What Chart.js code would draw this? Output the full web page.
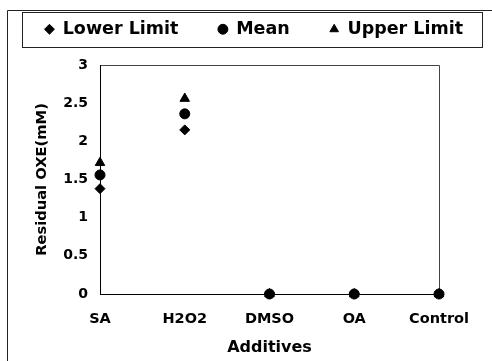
<!DOCTYPE html>
<html><head><meta charset="utf-8">
<script src="https://cdn.jsdelivr.net/npm/chart.js@4/dist/chart.umd.min.js"></script>
<style>
html,body{margin:0;padding:0;background:#fff;}
#wrap{position:relative;width:492px;height:361px;}
canvas{display:block;}
</style></head><body>
<div id="wrap"><canvas id="c" width="492" height="361"></canvas></div>
<script>
const categories = ['SA', 'H2O2', 'DMSO', 'OA', 'Control'];
const lowerLimit = [1.38, 2.15, 0, 0, 0];
const meanValues = [1.56, 2.36, 0, 0, 0];
const upperLimit = [1.72, 2.56, 0, 0, 0];
const seriesNames = ['Lower Limit', 'Mean', 'Upper Limit'];
const yTickValues = [0, 0.5, 1, 1.5, 2, 2.5, 3];
const yTickLabels = ['0', '0.5', '1', '1.5', '2', '2.5', '3'];
const xTitle = 'Additives';
const yTitle = 'Residual OXE(mM)';

const FONT = 'DejaVu Sans';
Chart.defaults.font.family = FONT;
Chart.defaults.font.weight = 'bold';
Chart.defaults.color = '#000';

const box = {
  frameLeft: 22, frameRight: 482, frameTop: 12, frameBottom: 47,
  drawLeft: 4, drawRight: 504, drawTop: -19.5, legendHeight: 65
};

const framePlugin = {
  id: 'frames',
  afterInit(chart) {
    const lg = chart.legend;
    const fit = lg.fit.bind(lg);
    lg.fit = function () {
      const mw = this.maxWidth;
      this.maxWidth = 2000;
      fit();
      this.maxWidth = mw;
      this.width = mw;
      this.height = box.legendHeight;
    };
  },
  afterLayout(chart) {
    const lg = chart.legend;
    lg.left = box.drawLeft; lg.right = box.drawRight; lg.top = box.drawTop;
    lg.width = box.drawRight - box.drawLeft;
  },
  beforeDraw(chart) {
    const ctx = chart.ctx;
    ctx.save();
    ctx.strokeStyle = '#222';
    ctx.lineWidth = 1;
    ctx.beginPath();
    ctx.moveTo(7.5, 361); ctx.lineTo(7.5, 10.5); ctx.lineTo(492, 10.5);
    ctx.stroke();
    ctx.strokeRect(box.frameLeft + 0.5, box.frameTop + 0.5, box.frameRight - box.frameLeft, box.frameBottom - box.frameTop);
    const a = chart.chartArea;
    ctx.strokeStyle = '#444';
    ctx.beginPath();
    ctx.moveTo(a.left, Math.round(a.top) + 0.5);
    ctx.lineTo(Math.round(a.right) + 0.5, Math.round(a.top) + 0.5);
    ctx.lineTo(Math.round(a.right) + 0.5, a.bottom);
    ctx.stroke();
    ctx.restore();
  }
};

const mk = (label, data, style, r) => ({
  label, data, pointStyle: style, pointRadius: r, pointHoverRadius: r,
  backgroundColor: '#000', borderColor: '#000', borderWidth: 1,
  showLine: false, clip: false
});

new Chart(document.getElementById('c'), {
  type: 'line',
  data: {
    labels: categories,
    datasets: [
      mk(seriesNames[0], lowerLimit, 'rectRot', 5),
      mk(seriesNames[1], meanValues, 'circle', 5),
      mk(seriesNames[2], upperLimit, 'triangle', 5.5)
    ]
  },
  options: {
    responsive: false,
    animation: false,
    devicePixelRatio: 1,
    layout: { padding: { left: 20, right: 53, top: 0, bottom: 0 } },
    plugins: {
      tooltip: { enabled: false },
      legend: {
        position: 'top',
        labels: {
          usePointStyle: true, boxWidth: 9, boxHeight: 7, padding: 40,
          font: { size: 17.5, weight: 'bold', family: FONT }, color: '#000'
        }
      }
    },
    scales: {
      x: {
        offset: false,
        grid: { display: false, drawTicks: false },
        border: { display: true, color: '#000', width: 1 },
        ticks: { padding: 17, font: { size: 14.5, weight: 'bold' }, color: '#000', maxRotation: 0, autoSkip: false },
        title: { display: true, text: xTitle, font: { size: 16, weight: 'bold' }, color: '#000', padding: { top: 0, bottom: 4 } },
        afterFit(s) { s.height = 67; }
      },
      y: {
        min: 0, max: 3,
        afterBuildTicks(s) { s.ticks = yTickValues.map(v => ({ value: v })); },
        grid: { display: false, drawTicks: false },
        border: { display: true, color: '#000', width: 1 },
        ticks: { padding: 12, font: { size: 14, weight: 'bold' }, color: '#000',
          callback: (v) => yTickLabels[yTickValues.indexOf(v)] },
        title: { display: true, text: yTitle, font: { size: 14.7, weight: 'bold' }, color: '#000', padding: { top: 13, bottom: 0 } },
        afterFit(s) { s.width = 80; }
      }
    }
  },
  plugins: [framePlugin]
});
</script>
</body></html>
